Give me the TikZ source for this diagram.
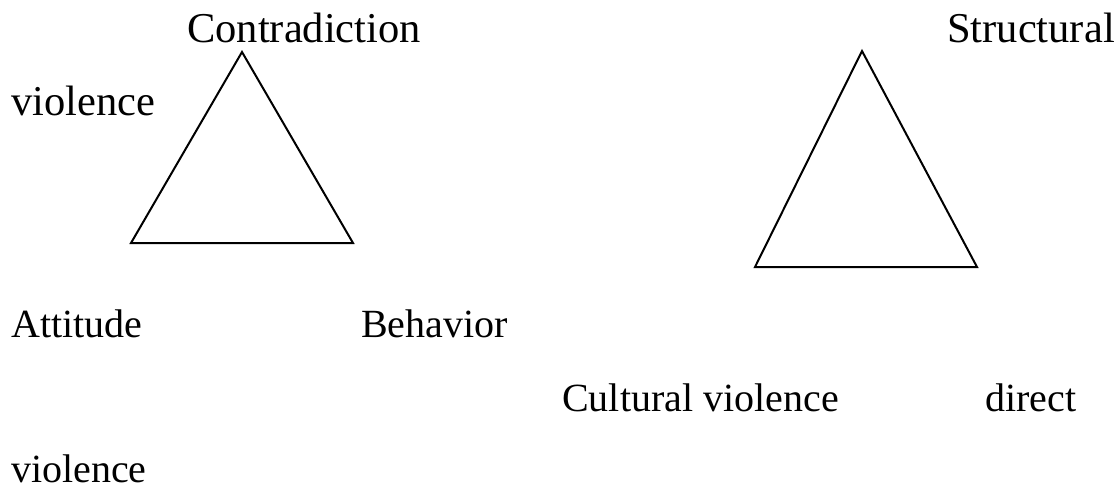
\documentclass[tikz,border=0pt]{standalone}
\usepackage{fontspec}
\setmainfont{Liberation Serif}
\begin{document}
\begin{tikzpicture}[x=1pt,y=-1pt,
  lbl/.style={anchor=base west,inner sep=0pt,font=\fontsize{40}{48}\selectfont},
  biglbl/.style={lbl,font=\fontsize{42.5}{50}\selectfont},
  tri/.style={line width=2pt,line join=miter}]
\useasboundingbox (0,0) rectangle (1119,488);
% left triangle
\coordinate (la) at (242,52);
\coordinate (lb) at (131,243);
\coordinate (lc) at (353,243);
\draw[tri] (la) -- (lb) -- (lc) -- cycle;
% right triangle
\coordinate (ra) at (862,51);
\coordinate (rb) at (755,267);
\coordinate (rc) at (977,267);
\draw[tri] (ra) -- (rb) -- (rc) -- cycle;
% labels
\node[biglbl] (contra) at (187,42) {Contradiction};
\node[biglbl] (struct) at (947,42) {Structural};
\node[biglbl] (viol1) at (11,115) {violence};
\node[lbl] (att) at (11,337) {Attitude};
\node[lbl] (beh) at (361,337) {Behavior};
\node[lbl] (cult) at (562,411) {Cultural violence};
\node[lbl] (dir) at (985,411) {direct};
\node[lbl] (viol2) at (11,482) {violence};
\end{tikzpicture}
\end{document}
